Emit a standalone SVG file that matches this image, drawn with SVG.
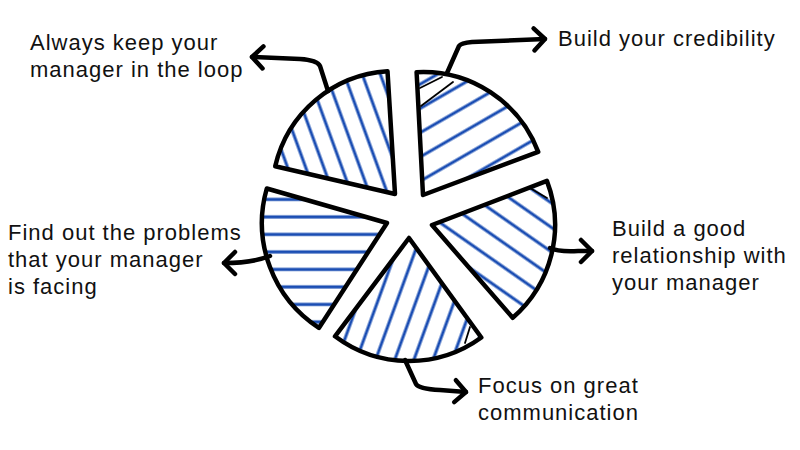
<svg xmlns="http://www.w3.org/2000/svg" width="800" height="450" viewBox="0 0 800 450">
<style>
  .wedge{fill:none;stroke:#000;stroke-width:4.5;stroke-linejoin:round}
  .conn{fill:none;stroke:#000;stroke-width:4.5;stroke-linecap:round;stroke-linejoin:round}
  .ink{stroke:#000;stroke-width:1.8;stroke-linecap:round}
  .lbl{font-family:"Liberation Sans","DejaVu Sans",sans-serif;font-size:22px;letter-spacing:1px;fill:#111}
</style>
<defs>
  <marker id="ah" markerUnits="userSpaceOnUse" markerWidth="30" markerHeight="30" refX="0" refY="0" viewBox="-15 -15 30 30" orient="auto" overflow="visible">
    <path d="M-11,-11 L0,0 L-11,11" fill="none" stroke="#000" stroke-width="4.5" stroke-linecap="round" stroke-linejoin="round"/>
  </marker>
  <pattern id="hUL" patternUnits="userSpaceOnUse" width="40" height="17" patternTransform="rotate(70)"><line x1="0" y1="8" x2="40" y2="8" stroke="#1a4db3" stroke-width="3.2"/></pattern>
  <pattern id="hUR" patternUnits="userSpaceOnUse" width="40" height="21" patternTransform="rotate(-30)"><line x1="0" y1="10" x2="40" y2="10" stroke="#1a4db3" stroke-width="3.2"/></pattern>
  <pattern id="hR" patternUnits="userSpaceOnUse" width="40" height="20" patternTransform="rotate(35)"><line x1="0" y1="10" x2="40" y2="10" stroke="#1a4db3" stroke-width="3.2"/></pattern>
  <pattern id="hB" patternUnits="userSpaceOnUse" width="40" height="18" patternTransform="rotate(-70)"><line x1="0" y1="8" x2="40" y2="8" stroke="#1a4db3" stroke-width="3.2"/></pattern>
  <pattern id="hL" patternUnits="userSpaceOnUse" width="40" height="17.5"><line x1="0" y1="7" x2="40" y2="7" stroke="#1a4db3" stroke-width="3.2"/></pattern>
</defs>
<rect width="800" height="450" fill="#fff"/>

<g id="wedge-upper-left">
  <path d="M395,194 L275.2,166.3 A123,123 0 0 1 387.5,71.2 Z" fill="url(#hUL)" stroke="none"/>
  <path class="wedge" d="M395,194 L275.2,166.3 A123,123 0 0 1 387.5,71.2 Z"/>
</g>
<g id="wedge-upper-right">
  <path d="M423,195 L416.6,72.2 A123,123 0 0 1 538.2,151.9 Z" fill="url(#hUR)" stroke="none"/>
  <line class="ink" x1="420" y1="88" x2="442" y2="77"/>
  <line class="ink" x1="421" y1="106" x2="453" y2="82"/>
  <path class="wedge" d="M423,195 L416.6,72.2 A123,123 0 0 1 538.2,151.9 Z"/>
</g>
<g id="wedge-right">
  <path d="M432,225 L546.9,180.9 A123,123 0 0 1 512.7,317.8 Z" fill="url(#hR)" stroke="none"/>
  <line class="ink" x1="530" y1="188" x2="547" y2="198"/>
  <path class="wedge" d="M432,225 L546.9,180.9 A123,123 0 0 1 512.7,317.8 Z"/>
</g>
<g id="wedge-bottom">
  <path d="M409,238 L481.3,337.5 A123,123 0 0 1 335,336.3 Z" fill="url(#hB)" stroke="none"/>
  <line class="ink" x1="465" y1="343" x2="470" y2="327"/>
  <path class="wedge" d="M409,238 L481.3,337.5 A123,123 0 0 1 335,336.3 Z"/>
</g>
<g id="wedge-left">
  <path d="M387,223 L318.9,327.9 A125,125 0 0 1 266.8,188.5 Z" fill="url(#hL)" stroke="none"/>
  <path class="wedge" d="M387,223 L318.9,327.9 A125,125 0 0 1 266.8,188.5 Z"/>
</g>

<g id="connectors">
  <path class="conn" marker-end="url(#ah)" d="M328,91 L320,66 Q317,60 300,59 L252,57"/>
  <path class="conn" marker-end="url(#ah)" d="M447,73 L459,46 Q461,43 472,42 L545,39"/>
  <path class="conn" marker-end="url(#ah)" d="M550,248 Q558,252 578,251 L592,251"/>
  <path class="conn" marker-end="url(#ah)" d="M270,256 Q252,263 224,263"/>
  <path class="conn" marker-end="url(#ah)" d="M405,360 L416,384 Q419,389 440,390 L466,392"/>
</g>

<g id="label-loop">
  <text class="lbl" x="30" y="50">Always keep your</text>
  <text class="lbl" x="30" y="77">manager in the loop</text>
</g>
<g id="label-credibility">
  <text class="lbl" x="558" y="46">Build your credibility</text>
</g>
<g id="label-relationship">
  <text class="lbl" x="612" y="236">Build a good</text>
  <text class="lbl" x="612" y="263">relationship with</text>
  <text class="lbl" x="612" y="290">your manager</text>
</g>
<g id="label-problems">
  <text class="lbl" x="8" y="240">Find out the problems</text>
  <text class="lbl" x="8" y="267">that your manager</text>
  <text class="lbl" x="8" y="294">is facing</text>
</g>
<g id="label-communication">
  <text class="lbl" x="478" y="393">Focus on great</text>
  <text class="lbl" x="478" y="420">communication</text>
</g>
</svg>
